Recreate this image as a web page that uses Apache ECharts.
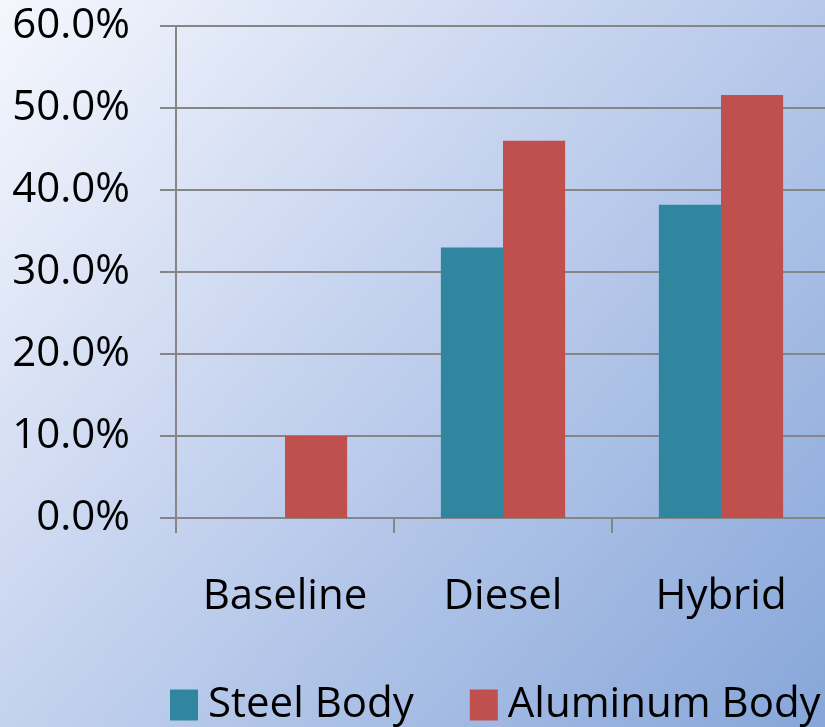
<!DOCTYPE html>
<html>
<head>
<meta charset="utf-8">
<script src="https://cdn.jsdelivr.net/npm/echarts@6/dist/echarts.min.js"></script>
<style>
html,body{margin:0;padding:0;}
#c{width:825px;height:727px;}
</style>
</head>
<body>
<div id="c"></div>
<script>
const categories = ['Baseline', 'Diesel', 'Hybrid'];
const steelBody = [0, 33.0, 38.2];
const aluminumBody = [10.0, 46.0, 51.6];
const seriesNames = ['Steel Body', 'Aluminum Body'];

const FONT = 'Open Sans';
const chart = echarts.init(document.getElementById('c'));
chart.setOption({
  animation: false,
  backgroundColor: {
    type: 'linear', x: 0, y: 0, x2: 1, y2: 1,
    colorStops: [
      { offset: 0, color: '#f5f7fd' },
      { offset: 0.45, color: '#c3d1ee' },
      { offset: 1, color: '#86a6d9' }
    ]
  },
  textStyle: { fontFamily: FONT },
  grid: { left: 176, top: 26, width: 654, height: 492, outerBoundsMode: 'none', containLabel: false },
  legend: {
    left: 170, top: 684, padding: 0,
    itemWidth: 28, itemHeight: 31, itemGap: 56,
    icon: 'rect',
    textStyle: { fontFamily: FONT, fontSize: 42, color: '#000', padding: [0, 0, 0, 5] },
    data: seriesNames
  },
  xAxis: {
    type: 'category',
    data: categories,
    axisLine: { lineStyle: { color: '#868686', width: 2 } },
    axisTick: { show: true, length: 15, lineStyle: { color: '#868686', width: 2 } },
    axisLabel: { fontFamily: FONT, fontSize: 42, color: '#000', margin: 58 },
    splitLine: { show: false }
  },
  yAxis: {
    type: 'value',
    min: 0, max: 60, interval: 10,
    axisLine: { show: true, lineStyle: { color: '#868686', width: 2 } },
    axisTick: { show: true, length: 16, lineStyle: { color: '#868686', width: 2 } },
    axisLabel: { fontFamily: FONT, fontSize: 42, color: '#000', margin: 46, formatter: v => v.toFixed(1) + '%' },
    splitLine: { show: true, lineStyle: { color: '#868686', width: 2 } }
  },
  series: [
    {
      name: seriesNames[0], type: 'bar', data: steelBody,
      barGap: '0%', barCategoryGap: '43%',
      itemStyle: { color: '#31869f' }
    },
    {
      name: seriesNames[1], type: 'bar', data: aluminumBody,
      barGap: '0%', barCategoryGap: '43%',
      itemStyle: { color: '#c0504d' }
    }
  ]
});
</script>
</body>
</html>
